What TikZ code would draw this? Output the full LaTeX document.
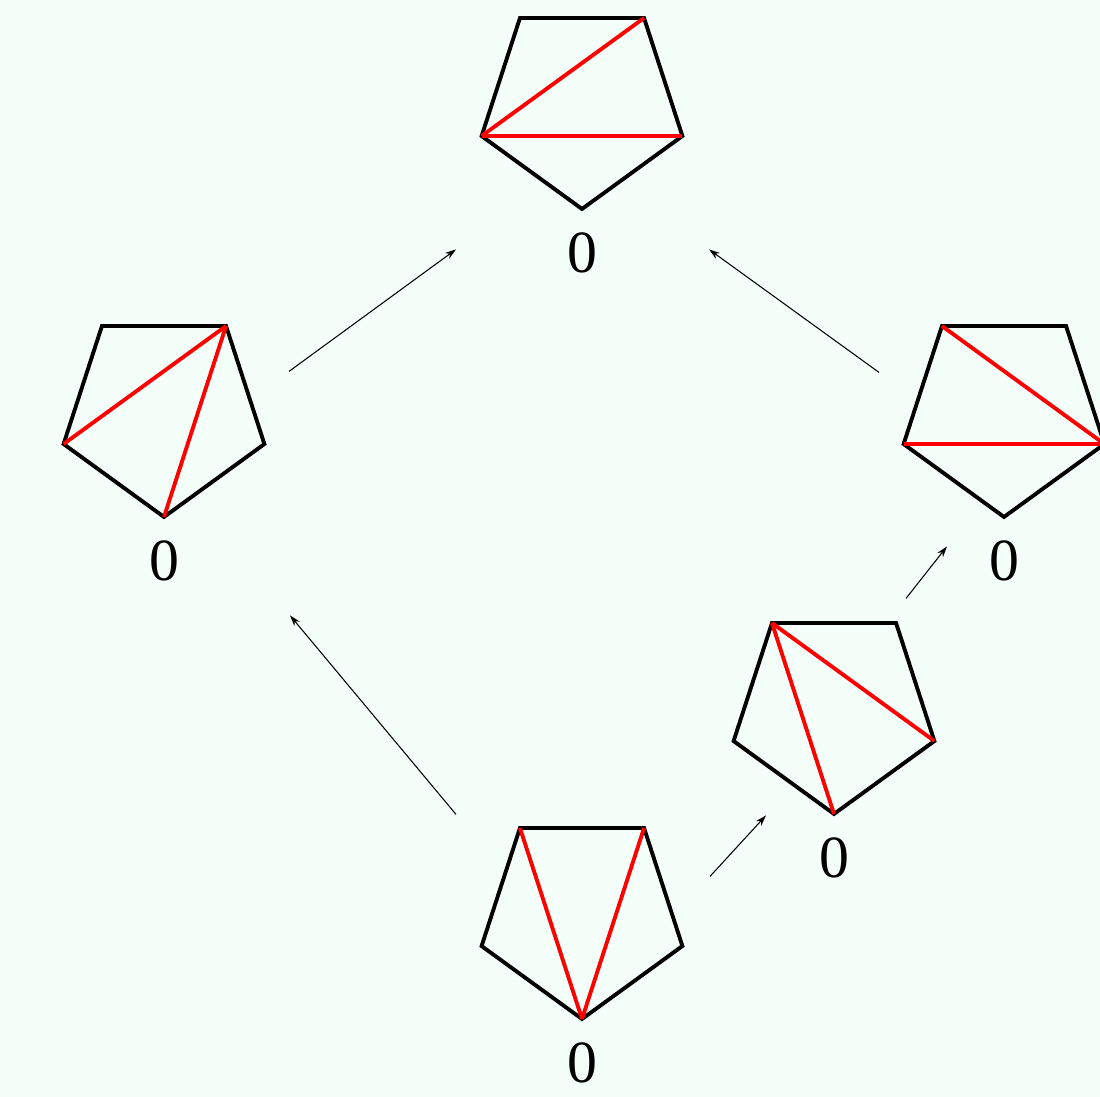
\documentclass[tikz,border=0pt]{standalone}
\usepackage{fontspec}
\setmainfont{Liberation Serif}
\definecolor{mintbg}{RGB}{245,255,250}
\definecolor{diagred}{RGB}{255,0,0}
\usetikzlibrary{arrows.meta, positioning, shapes.geometric}

\begin{document}
\begin{tikzpicture}[x=0.01cm, y=-0.01cm, every node/.style={font=\fontsize{17}{20}\selectfont},
  pent/.style={draw=black, regular polygon, regular polygon sides=5, shape border rotate=180,
               minimum size=2.11cm, inner sep=0pt, outer sep=0pt, line width=1.1pt},
  diag/.style={diagred, line width=1.1pt},
  lbl/.style={inner sep=0pt},
  arr/.style={-{Stealth[length=0.11cm, width=0.07cm]}, line width=0.3pt}]
\fill[mintbg] (0,0) rectangle (1100,1097);
\useasboundingbox (0,0) rectangle (1100,1097);
% pentagons (corner 1 = bottom, then anticlockwise)
\node[pent] (ptop) at (582,103.4) {};
\node[pent] (pleft) at (164,411.4) {};
\node[pent] (pright) at (1004,411.4) {};
\node[pent] (pmid) at (834,708.4) {};
\node[pent] (pbot) at (582,913.4) {};
\node[lbl, below=0.23cm of ptop] (ltop) {0};
\node[lbl, below=0.23cm of pleft] (lleft) {0};
\node[lbl, below=0.23cm of pright] (lright) {0};
\node[lbl, below=0.23cm of pmid] (lmid) {0};
\node[lbl, below=0.23cm of pbot] (lbot) {0};
% diagonals
\draw[diag] (ptop.corner 5)--(ptop.corner 3);
\draw[diag] (ptop.corner 5)--(ptop.corner 2);
\draw[diag] (pleft.corner 5)--(pleft.corner 3);
\draw[diag] (pleft.corner 1)--(pleft.corner 3);
\draw[diag] (pright.corner 4)--(pright.corner 2);
\draw[diag] (pright.corner 5)--(pright.corner 2);
\draw[diag] (pmid.corner 4)--(pmid.corner 1);
\draw[diag] (pmid.corner 4)--(pmid.corner 2);
\draw[diag] (pbot.corner 4)--(pbot.corner 1);
\draw[diag] (pbot.corner 3)--(pbot.corner 1);
% arrows
\draw[arr] ([shift={(125,-40)}]pleft.center) -- ([shift={(-126,146)}]ptop.center);
\draw[arr] ([shift={(-125,-39)}]pright.center) -- ([shift={(127,146)}]ptop.center);
\draw[arr] ([shift={(-126,-99)}]pbot.center) -- ([shift={(126,204)}]pleft.center);
\draw[arr] ([shift={(128,-37)}]pbot.center) -- ([shift={(-68,107)}]pmid.center);
\draw[arr] ([shift={(72,-110)}]pmid.center) -- ([shift={(-57,135)}]pright.center);
\end{tikzpicture}
\end{document}
